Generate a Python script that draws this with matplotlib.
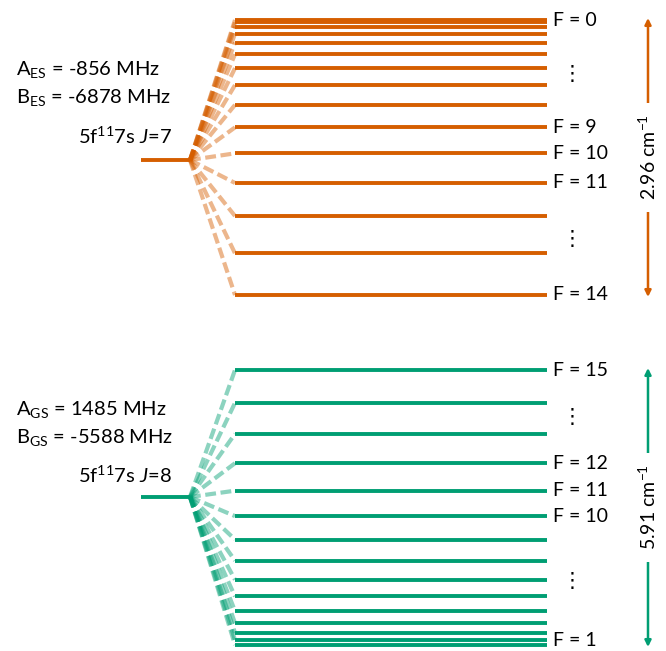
import matplotlib
matplotlib.use("Agg")
import matplotlib.pyplot as plt

plt.rcParams['font.family'] = ['Lato', 'DejaVu Sans']
plt.rcParams['mathtext.fontset'] = 'custom'
plt.rcParams['mathtext.rm'] = 'Lato'
plt.rcParams['mathtext.it'] = 'Lato:italic'

# hyperfine level energies (GHz)
es_F = list(range(0, 15))
es_E = [45.4, 44.6, 43.2, 41.0, 38.1, 34.3, 29.8, 24.3, 17.9, 10.6,
        2.2, -7.4, -18.1, -30.2, -43.7]
gs_F = list(range(1, 16))
gs_E = [-95.5, -92.4, -87.7, -81.4, -73.6, -64.2, -53.4, -41.1, -27.5,
        -12.4, 4.0, 21.7, 40.6, 60.6, 81.8]

es_labels = [0, 9, 10, 11, 14]
gs_labels = [15, 12, 11, 10, 1]
es_dots = [(0, 9), (11, 14)]
gs_dots = [(15, 12), (10, 1)]

es_text = ["A$_{\\mathrm{ES}}$ = -856 MHz", "B$_{\\mathrm{ES}}$ = -6878 MHz",
           "5f$^{11}$7s $J$=7"]
gs_text = ["A$_{\\mathrm{GS}}$ = 1485 MHz", "B$_{\\mathrm{GS}}$ = -5588 MHz",
           "5f$^{11}$7s $J$=8"]
es_span = "2.96 cm$^{-1}$"
gs_span = "5.91 cm$^{-1}$"

orange = '#D55E00'
green = '#009E73'

fig = plt.figure(figsize=(6.66, 6.51), dpi=100)
ax = fig.add_axes([0, 0, 1, 1])
ax.set_xlim(0, 666)
ax.set_ylim(651, 0)
ax.axis('off')


def draw_manifold(F, E, y_top, y_j, color, labels, dots, texts, span, ty):
    height = 275
    emax, emin = max(E), min(E)
    ys = {f: y_top + (emax - e) / (emax - emin) * height for f, e in zip(F, E)}
    x0, x1, x2 = 141, 190, 235
    ax.plot([x0, x1], [y_j, y_j], color=color, lw=2.8, solid_capstyle='butt')
    for f in F:
        ax.plot([x1, x2], [y_j, ys[f]], color=color, lw=3, alpha=0.45,
                dashes=(2.6, 1.1), solid_capstyle='butt', dash_capstyle='butt')
        ax.plot([x2, 547], [ys[f], ys[f]], color=color, lw=2.8,
                solid_capstyle='butt')
    for f in labels:
        # keep the bottom label inside the picture
        ax.text(553, min(ys[f], 640), f"F = {f}", fontsize=14,
                va='center', ha='left')
    for a, b in dots:
        ax.text(572, (ys[a] + ys[b]) / 2, '\u22ee', fontsize=15,
                family='DejaVu Sans', va='center', ha='center')
    ax.text(16, ty, texts[0], fontsize=14.5, va='center', ha='left')
    ax.text(16, ty + 28, texts[1], fontsize=14.5, va='center', ha='left')
    ax.text(172, ty + 66, texts[2], fontsize=14.5, va='center', ha='right')
    ax.annotate('', xy=(648, y_top - 2), xytext=(648, y_top + height + 2),
                arrowprops=dict(arrowstyle='<|-|>', color=color, lw=1.8,
                                mutation_scale=9, shrinkA=0, shrinkB=0))
    ax.text(648, y_top + height / 2, span, rotation=90, fontsize=14,
            va='center', ha='center',
            bbox=dict(facecolor='white', edgecolor='none', pad=8))


draw_manifold(es_F, es_E, 20, 160, orange, es_labels, es_dots, es_text,
              es_span, 70)
draw_manifold(gs_F, gs_E, 370, 497, green, gs_labels, gs_dots, gs_text,
              gs_span, 409)

fig.savefig('out.png', dpi=100)
